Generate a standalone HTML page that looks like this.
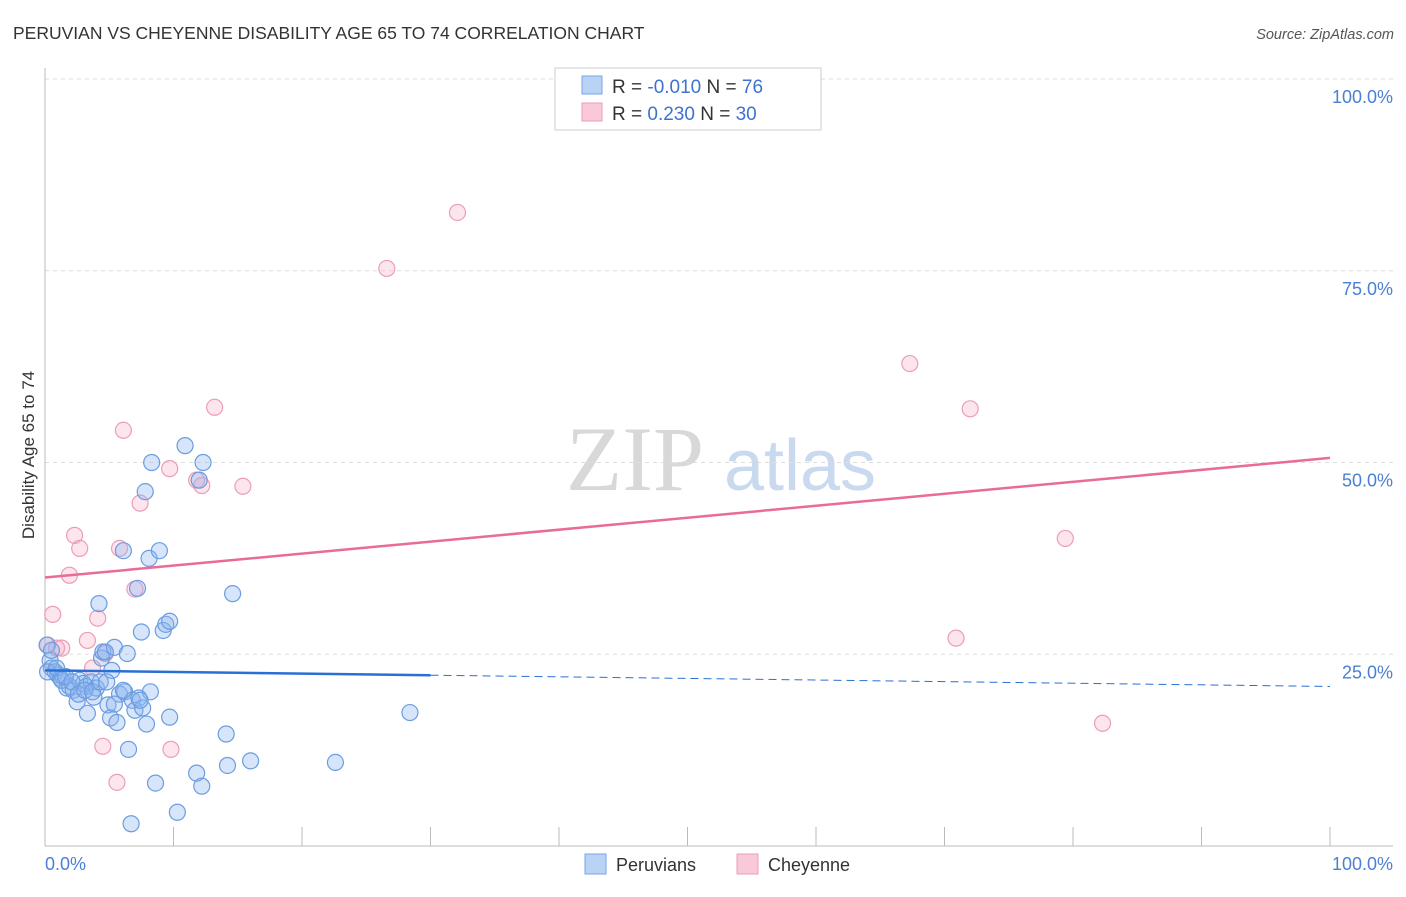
<!DOCTYPE html>
<html><head><meta charset="utf-8"><style>
body{margin:0;background:#fff;font-family:"Liberation Sans",sans-serif;}
</style></head><body>
<svg id="c" width="1406" height="892" xmlns="http://www.w3.org/2000/svg">
<text x="13" y="39" font-size="17.5" fill="#333">PERUVIAN VS CHEYENNE DISABILITY AGE 65 TO 74 CORRELATION CHART</text>
<text x="1394" y="39" font-size="14.5" fill="#555" font-style="italic" text-anchor="end">Source: ZipAtlas.com</text>
<text x="635" y="490" font-size="92" fill="#d8d8d8" font-family="Liberation Serif" text-anchor="middle">ZIP</text>
<text x="800" y="490" font-size="72" fill="#c8d9f0" text-anchor="middle">atlas</text>
<g id="grid"></g><g id="axes"></g><g id="pts"></g><g id="trend"></g>
<text transform="translate(34,455) rotate(-90)" font-size="17" fill="#333" text-anchor="middle">Disability Age 65 to 74</text>
<g>
<rect x="555" y="68" width="266" height="62" fill="#fff" stroke="#ccc"/>
<rect x="582" y="76" width="20" height="18" fill="#b8d3f5" stroke="#7aa6e6"/>
<rect x="582" y="103" width="20" height="18" fill="#f9c9d8" stroke="#eb9db8"/>
<text x="612" y="93" font-size="19" fill="#333">R = <tspan fill="#3d72d0">-0.010</tspan>    N = <tspan fill="#3d72d0">76</tspan></text>
<text x="612" y="120" font-size="19" fill="#333">R = <tspan fill="#3d72d0"> 0.230</tspan>    N = <tspan fill="#3d72d0">30</tspan></text>
</g>
<g>
<rect x="585" y="854" width="21" height="20" fill="#b8d3f5" stroke="#7aa6e6"/>
<text x="616" y="871" font-size="18" fill="#333">Peruvians</text>
<rect x="737" y="854" width="21" height="20" fill="#f9c9d8" stroke="#eb9db8"/>
<text x="768" y="871" font-size="18" fill="#333">Cheyenne</text>
</g>
</svg>
<script>
const blueX=[0.16,0.4,0.5,0.8,1.0,0.2,1.2,1.4,1.7,1.9,2.2,2.5,2.7,3.0,3.2,3.3,3.6,3.8,4.0,4.2,4.4,4.5,4.7,4.9,5.1,5.2,5.4,5.6,5.8,6.1,6.2,6.4,6.5,6.7,6.8,7.0,7.2,7.3,7.5,7.6,7.8,7.9,8.1,8.2,8.3,8.6,8.9,9.2,9.4,9.7,9.7,10.3,10.9,11.8,12.0,12.2,12.3,14.1,14.2,14.6,16.0,22.6,28.4,0.5,0.9,1.3,1.6,2.1,2.6,3.1,3.7,4.3,4.8,5.4,6.1,7.4];
const blueY=[26.2,24.2,23.2,22.7,22.3,22.7,21.9,22.1,20.6,20.8,20.3,18.8,21.6,21.2,20.8,17.3,21.4,19.4,20.6,31.6,24.5,25.3,25.3,18.4,16.7,22.9,25.9,16.1,19.8,38.5,20.1,25.1,12.6,2.9,19.0,17.7,33.6,19.3,27.9,18.0,46.2,15.9,37.5,20.1,50.0,8.2,38.5,28.1,28.9,29.3,16.8,4.4,52.2,9.5,47.7,7.8,50.0,14.6,10.5,32.9,11.1,10.9,17.4,25.5,23.2,21.6,22.1,21.4,19.8,20.3,20.1,21.4,21.4,18.5,20.3,19.0];
const pinkX=[0.2,0.6,0.9,1.3,1.9,2.3,2.7,3.3,3.7,4.1,4.5,4.7,5.6,5.8,6.1,7.0,7.4,9.7,9.8,11.8,12.2,13.2,15.4,26.6,32.1,67.3,70.9,72.0,79.4,82.3];
const pinkY=[26.2,30.2,25.8,25.8,35.3,40.5,38.8,26.8,23.2,29.7,13.0,25.1,8.3,38.8,54.2,33.5,44.7,49.2,12.6,47.7,47.0,57.2,46.9,75.3,82.6,62.9,27.1,57.0,40.1,16.0];
const yTicks=[25,50,75,100];
const yTickLabels=["25.0%","50.0%","75.0%","100.0%"];
const xTicks=[0,10,20,30,40,50,60,70,80,90,100];
const blueTrend=[22.9,20.8];
const pinkTrend=[35.0,50.6];
const X=v=>45+v*12.85, Y=v=>846-v*7.67;
const NS="http://www.w3.org/2000/svg";
function mk(p,t,a){const e=document.createElementNS(NS,t);for(const k in a)e.setAttribute(k,a[k]);document.getElementById(p).appendChild(e);return e;}
yTicks.forEach((t,i)=>{
 const g=mk('grid','line',{x1:45,x2:1393,y1:Y(t),y2:Y(t),stroke:'#ddd','stroke-dasharray':'4,4'});
 
 
 const l=mk('grid','text',{x:1393,y:Y(t)+24,'font-size':18,fill:'#4a7fd4','text-anchor':'end'});
 l.textContent=yTickLabels[i];
 
 
});
const ax=mk('axes','line',{x1:45,x2:1393,y1:846,y2:846,stroke:'#bbb'});


const ay=mk('axes','line',{x1:45,x2:45,y1:68,y2:846,stroke:'#bbb'});


xTicks.forEach(t=>{
 const k=mk('axes','line',{x1:X(t),x2:X(t),y1:827,y2:846,stroke:'#bbb'});
 
 
});
[[45,'start','0.0%'],[1393,'end','100.0%']].forEach(a=>{
 const l=mk('axes','text',{x:a[0],y:870,'font-size':18,fill:'#4a7fd4','text-anchor':a[1]});
 l.textContent=a[2];
 
 
});
pinkX.forEach((x,i)=>{
 const c=mk('pts','circle',{cx:X(x),cy:Y(pinkY[i]),r:8,fill:'rgba(245,170,195,0.3)',stroke:'#eb9db8','stroke-width':1.2});
 
 
});
blueX.forEach((x,i)=>{
 const c=mk('pts','circle',{cx:X(x),cy:Y(blueY[i]),r:8,fill:'rgba(140,180,240,0.35)',stroke:'#6b9de0','stroke-width':1.2});
 
 
});
const bv=x=>blueTrend[0]+(blueTrend[1]-blueTrend[0])*x/100;
let t1=mk('trend','line',{x1:X(0),y1:Y(bv(0)),x2:X(30),y2:Y(bv(30)),stroke:'#2a6fd6','stroke-width':2.5});


let t2=mk('trend','line',{x1:X(30),y1:Y(bv(30)),x2:X(100),y2:Y(bv(100)),stroke:'#2a6fd6','stroke-width':1,'stroke-dasharray':'8,5'});


let t3=mk('trend','line',{x1:X(0),y1:Y(pinkTrend[0]),x2:X(100),y2:Y(pinkTrend[1]),stroke:'#e86b99','stroke-width':2.5});


</script>
</body></html>
